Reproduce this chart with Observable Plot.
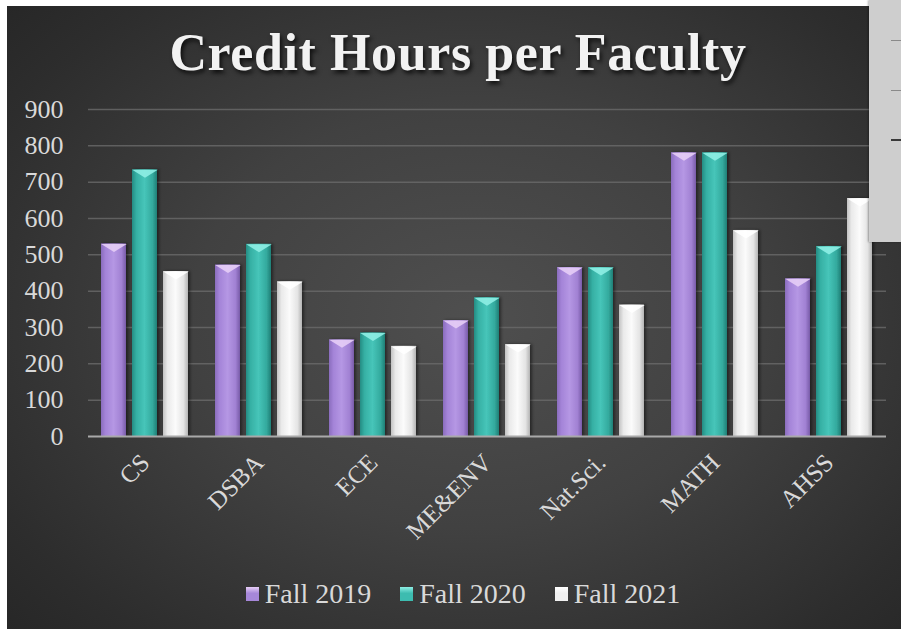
<!DOCTYPE html>
<html>
<head>
<meta charset="utf-8">
<script src="https://cdn.jsdelivr.net/npm/d3@7"></script>
<script src="https://cdn.jsdelivr.net/npm/@observablehq/plot@0.6"></script>
<style>
  html, body { margin: 0; padding: 0; background: #ffffff; }
  #wrap { position: relative; width: 901px; height: 629px; overflow: hidden; background: #ffffff; }
  #bg { position: absolute; left: 7px; top: 6px; right: 0; bottom: 0;
        background: radial-gradient(ellipse 70% 75% at 52% 50%, #4f4f4f 0%, #414141 45%, #2d2d2d 85%, #272727 100%); }
  #chart { position: absolute; left: 0; top: 0; }
  #chart svg text { font-family: "Liberation Serif", "Times New Roman", serif !important; }
  #title { position: absolute; left: 0; width: 916px; top: 23px; text-align: center;
           font-family: "Liberation Serif", "Times New Roman", serif; font-weight: bold;
           font-size: 52px; letter-spacing: 0.6px; color: #f2f2f2; line-height: 60px;
           text-shadow: 2px 3px 4px rgba(0,0,0,0.75); }
  #legend { position: absolute; left: 0; width: 901px; padding-left: 25px; box-sizing: border-box; top: 578px;
            display: flex; justify-content: center; align-items: center; gap: 29px;
            font-family: "Liberation Serif", "Times New Roman", serif; font-size: 28px; color: #d9d9d9; }
  #legend .item { display: flex; align-items: center; gap: 6px; }
  #legend .sw { width: 13px; height: 14px; display: inline-block; }
  #panel { position: absolute; left: 869px; top: 0; width: 32px; height: 242px; background: #cecece;
           box-shadow: -1px 0 2px rgba(0,0,0,0.3); }
  #panel .dash { position: absolute; left: 22px; width: 10px; height: 1px; background: #8a8a8a; }
</style>
</head>
<body>
<div id="wrap">
  <div id="bg"></div>
  <div id="chart"></div>
  <div id="title">Credit Hours per Faculty</div>
  <div id="legend"></div>
  <div id="panel">
    <div class="dash" style="top:40px"></div>
    <div class="dash" style="top:90px"></div>
    <div class="dash" style="top:139px;height:2px;background:#3a3a3a"></div>
  </div>
</div>
<script>
// ---- data ----
const categories = ["CS", "DSBA", "ECE", "ME&ENV", "Nat.Sci.", "MATH", "AHSS"];
const seriesNames = ["Fall 2019", "Fall 2020", "Fall 2021"];
const fall2019 = [530, 472, 266, 319, 465, 781, 434];
const fall2020 = [734, 529, 285, 382, 465, 781, 523];
const fall2021 = [454, 426, 248, 253, 362, 567, 655];
const yTicks = [0, 100, 200, 300, 400, 500, 600, 700, 800, 900];

const seriesValues = [fall2019, fall2020, fall2021];
const table = [];
categories.forEach((c, i) => seriesNames.forEach((s, j) => table.push({cat: c, series: s, value: seriesValues[j][i]})));

// ---- style ----
const barStops = [
  ["#8a6cbd", "#a484d8", "#b597e4", "#a181d3", "#785aa8"],
  ["#268c83", "#36b0a4", "#46c5b9", "#34aa9e", "#207f76"],
  ["#c2c2c2", "#eaeaea", "#fbfbfb", "#e4e4e4", "#b4b4b4"]
];
const capColors = ["#e6cdf6", "#8eeee4", "#ffffff"];
const legendColors = ["#a687d9", "#3dbcb0", "#f0f0f0"];

const W = 901, H = 629, ML = 87, MR = 14, MT = 109, MB = 193;
const xPadInner = 0.19, xPadOuter = 0.4;
const facetStep = (W - ML - MR) / categories.length;
const xStep = facetStep / (seriesNames.length - xPadInner + 2 * xPadOuter);
const halfBar = xStep * (1 - xPadInner) / 2;

const chevron = {
  draw(context) {
    context.moveTo(-halfBar, 0);
    context.lineTo(halfBar, 0);
    context.lineTo(0, 8);
    context.closePath();
  }
};

const marks = [
  Plot.ruleY(yTicks.filter(d => d > 0), {stroke: "#6a6a6a", strokeWidth: 1.5, strokeOpacity: 0.8}),
  Plot.barY(table, {fx: "cat", x: "series", y: "value", fill: "series"})
];
seriesNames.forEach((s, j) => {
  marks.push(Plot.dot(table.filter(d => d.series === s), {
    fx: "cat", x: "series", y: "value", symbol: chevron, r: 5, fill: capColors[j], stroke: "none", fillOpacity: 0.9
  }));
});
marks.push(Plot.ruleY([0], {stroke: "#a9a9a9", strokeWidth: 2}));

const plot = Plot.plot({
  width: W, height: H,
  marginLeft: ML, marginRight: MR, marginTop: MT, marginBottom: MB,
  style: {background: "transparent", color: "#d9d9d9", fontFamily: "'Liberation Serif', 'Times New Roman', serif", fontSize: "25px", overflow: "visible"},
  fx: {domain: categories, paddingInner: 0, paddingOuter: 0, padding: 0, label: null, tickSize: 0, tickPadding: 22, tickRotate: -45},
  x: {domain: seriesNames, paddingInner: xPadInner, paddingOuter: xPadOuter, axis: null},
  y: {domain: [0, 900], ticks: yTicks, tickSize: 0, tickPadding: 25, label: null, tickFormat: d => String(d)},
  color: {domain: seriesNames, range: seriesNames.map((s, j) => `url(#bargrad${j})`)},
  marks
});

// gradients
const svg = d3.select(plot.tagName.toLowerCase() === "svg" ? plot : plot.querySelector("svg"));
const defs = svg.insert("defs", ":first-child");
barStops.forEach((stops, j) => {
  const g = defs.append("linearGradient").attr("id", `bargrad${j}`).attr("x1", 0).attr("x2", 1).attr("y1", 0).attr("y2", 0);
  const offs = [0, 0.18, 0.5, 0.82, 1];
  stops.forEach((c, k) => g.append("stop").attr("offset", offs[k]).attr("stop-color", c));
});
const shadow = defs.append("filter").attr("id", "barshadow").attr("x", "-20%").attr("y", "-5%").attr("width", "150%").attr("height", "110%");
shadow.append("feDropShadow").attr("dx", 2).attr("dy", 0).attr("stdDeviation", 1.5).attr("flood-color", "#000").attr("flood-opacity", 0.45);
svg.selectAll('g[aria-label="bar"]').attr("filter", "url(#barshadow)");
svg.selectAll('[aria-label^="y-axis"] text').style("font-size", "26px");

document.getElementById("chart").appendChild(plot);

// legend
const legend = document.getElementById("legend");
seriesNames.forEach((s, j) => {
  const it = document.createElement("div");
  it.className = "item";
  const sw = document.createElement("span");
  sw.className = "sw";
  sw.style.background = `linear-gradient(180deg, ${capColors[j]} 0%, ${legendColors[j]} 45%, ${legendColors[j]} 100%)`;
  const t = document.createElement("span");
  t.textContent = s;
  it.appendChild(sw); it.appendChild(t);
  legend.appendChild(it);
});
</script>
</body>
</html>
